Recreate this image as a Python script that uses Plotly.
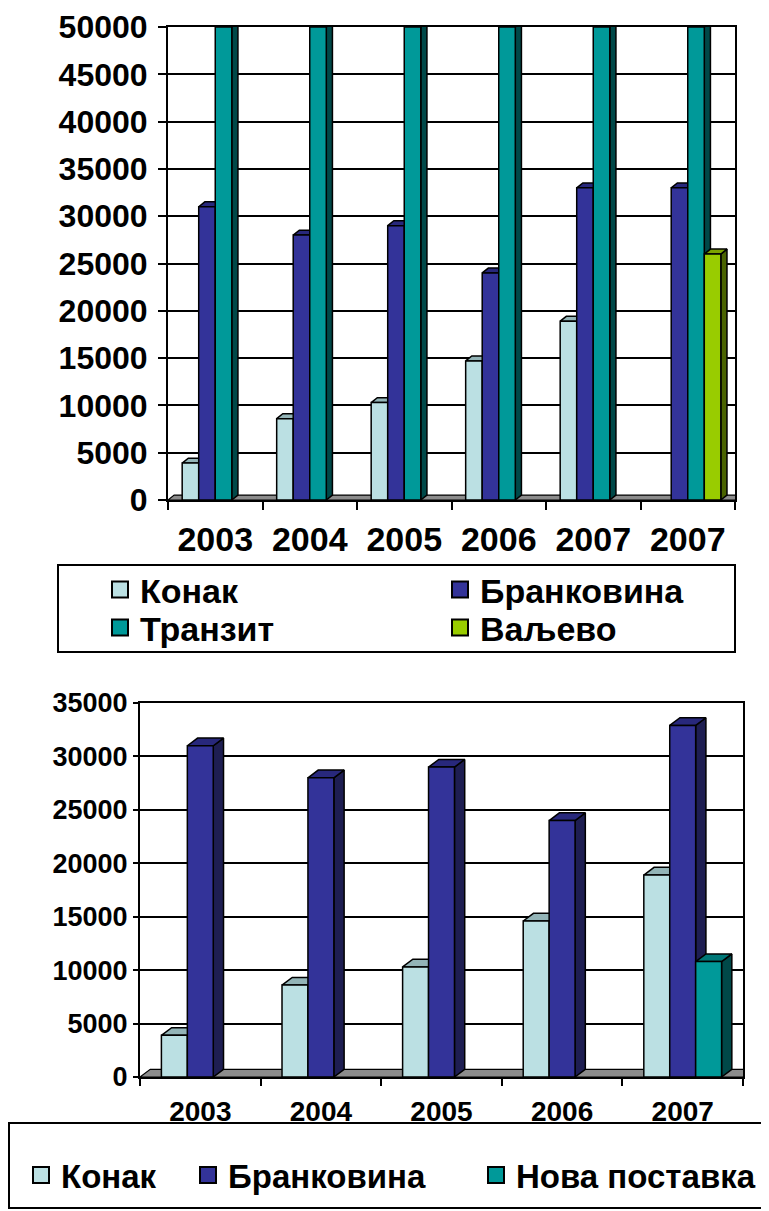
import plotly.graph_objects as go

# ---------------- data ----------------
top_categories = ["2003", "2004", "2005", "2006", "2007", "2007"]
top_konak = [3900, 8600, 10300, 14700, 18900, 0]
top_brankovina = [31000, 28000, 29000, 24000, 33000, 33000]
top_tranzit = [50000, 50000, 50000, 50000, 50000, 50000]
top_valjevo = [0, 0, 0, 0, 0, 26000]

bottom_categories = ["2003", "2004", "2005", "2006", "2007"]
bottom_konak = [3900, 8600, 10300, 14600, 18900]
bottom_brankovina = [31000, 28000, 29000, 24000, 32900]
bottom_nova = [0, 0, 0, 0, 10800]

top_series = [
    ("Конак", top_konak, "#BBE0E3", "#93B4B7", "#6E8A8C"),
    ("Бранковина", top_brankovina, "#333399", "#28287C", "#1E1E52"),
    ("Транзит", top_tranzit, "#009999", "#007878", "#004848"),
    ("Ваљево", top_valjevo, "#99CC00", "#7CA300", "#4A6300"),
]
bottom_series = [
    ("Конак", bottom_konak, "#BBE0E3", "#93B4B7", "#6E8A8C"),
    ("Бранковина", bottom_brankovina, "#333399", "#28287C", "#1E1E52"),
    ("Нова поставка", bottom_nova, "#009999", "#007878", "#004848"),
]

FONT = "Liberation Sans, Arial, sans-serif"
PAGE_W, PAGE_H = 769, 1211
OFF = 8  # default body margin of the html page
W, H = PAGE_W - OFF, PAGE_H - OFF

fig = go.Figure()


def px_x(p):
    return (p - OFF) / W


def px_y(p):
    return (H - (p - OFF)) / H


def add_3d_bars(series, ncat, bar_w, dx, dy, xa, ya):
    n = len(series)
    fx = [-0.5, ncat - 0.5, ncat - 0.5 + dx, -0.5 + dx, -0.5]
    fy = [0, 0, dy, dy, 0]
    fig.add_trace(go.Scatter(x=fx, y=fy, mode="lines", fill="toself",
                             fillcolor="#8C8C8C", line=dict(color="black", width=1.2),
                             hoverinfo="skip", showlegend=False, xaxis=xa, yaxis=ya))
    for j, (name, vals, cf, ct, cs) in enumerate(series):
        sx, sy, tx, ty, frx, fry = [], [], [], [], [], []
        for i, v in enumerate(vals):
            if not v:
                continue
            l = i - n * bar_w / 2 + j * bar_w
            r = l + bar_w
            sx += [r, r + dx, r + dx, r, r, None]
            sy += [0, dy, v + dy, v, 0, None]
            tx += [l, r, r + dx, l + dx, l, None]
            ty += [v, v, v + dy, v + dy, v, None]
            frx += [l, r, r, l, l, None]
            fry += [0, 0, v, v, 0, None]
        for xs, ys, col in ((sx, sy, cs), (tx, ty, ct), (frx, fry, cf)):
            fig.add_trace(go.Scatter(x=xs, y=ys, mode="lines", fill="toself",
                                     fillcolor=col, line=dict(color="black", width=1.5),
                                     hoverinfo="skip", showlegend=False,
                                     xaxis=xa, yaxis=ya))


add_3d_bars(top_series, len(top_categories), 0.175, 0.065, 520, "x", "y")
add_3d_bars(bottom_series, len(bottom_categories), 0.215, 0.085, 720, "x2", "y2")

# legend entries, one legend per entry so each can be placed like the original
top_legend_pos = [(100, 590), (440, 590), (100, 628), (440, 628)]
bottom_legend_pos = [(21, 1175), (188, 1175), (476, 1175)]
top_legend_size, bottom_legend_size = 34, 33

legend_layout = {}
k = 0
for (name, vals, cf, ct, cs), (lx, ly) in zip(top_series + bottom_series,
                                             top_legend_pos + bottom_legend_pos):
    k += 1
    lname = "legend" if k == 1 else f"legend{k}"
    is_top = k <= len(top_series)
    fig.add_trace(go.Scatter(x=[None], y=[None], mode="markers", name=name,
                             marker=dict(symbol="square", size=16, color=cf,
                                         line=dict(color="black", width=2)),
                             legend=lname,
                             xaxis="x" if is_top else "x2",
                             yaxis="y" if is_top else "y2"))
    legend_layout[lname] = dict(
        x=px_x(lx), y=px_y(ly), xanchor="left", yanchor="middle",
        orientation="h", borderwidth=0, bgcolor="rgba(0,0,0,0)",
        font=dict(family=FONT, size=top_legend_size if is_top else bottom_legend_size,
                  color="black", weight="bold"))

axis_common = dict(showline=True, linecolor="black", linewidth=2, mirror=True,
                   zeroline=False, automargin=False, fixedrange=True)

fig.update_layout(
    width=W, height=H,
    margin=dict(l=0, r=0, t=0, b=0),
    paper_bgcolor="white", plot_bgcolor="white",
    showlegend=True,
    xaxis=dict(domain=[px_x(168), px_x(735)], range=[-0.5, len(top_categories) - 0.5],
               tickmode="array", tickvals=list(range(len(top_categories))),
               ticktext=top_categories, ticks="", showgrid=False,
               tickfont=dict(family=FONT, size=34, color="black", weight="bold"),
               ticklabelstandoff=8,
               minor=dict(tickmode="array",
                          tickvals=[i - 0.5 for i in range(len(top_categories) + 1)],
                          ticks="outside", ticklen=8, tickwidth=2, tickcolor="black",
                          showgrid=False),
               anchor="y", **axis_common),
    yaxis=dict(domain=[px_y(500), px_y(27)], range=[0, 50000], dtick=5000,
               tickformat="d", ticks="outside", ticklen=8, tickwidth=2, tickcolor="black",
               showgrid=True, gridcolor="black", gridwidth=1.5,
               tickfont=dict(family=FONT, size=32, color="black", weight="bold"),
               ticklabelstandoff=4,
               anchor="x", **axis_common),
    xaxis2=dict(domain=[px_x(140), px_x(743)], range=[-0.5, len(bottom_categories) - 0.5],
                tickmode="array", tickvals=list(range(len(bottom_categories))),
                ticktext=bottom_categories, ticks="", showgrid=False,
                tickfont=dict(family=FONT, size=28, color="black", weight="bold"),
                ticklabelstandoff=8,
                minor=dict(tickmode="array",
                           tickvals=[i - 0.5 for i in range(len(bottom_categories) + 1)],
                           ticks="outside", ticklen=7, tickwidth=2, tickcolor="black",
                           showgrid=False),
                anchor="y2", **axis_common),
    yaxis2=dict(domain=[px_y(1077), px_y(703)], range=[0, 35000], dtick=5000,
                tickformat="d", ticks="outside", ticklen=5, tickwidth=2, tickcolor="black",
                showgrid=True, gridcolor="black", gridwidth=1.5,
                tickfont=dict(family=FONT, size=27, color="black", weight="bold"),
                ticklabelstandoff=0,
                anchor="x2", **axis_common),
    shapes=[
        dict(type="rect", xref="paper", yref="paper",
             x0=px_x(58), x1=px_x(735), y0=px_y(652), y1=px_y(565),
             line=dict(color="black", width=2), fillcolor="rgba(0,0,0,0)", layer="below"),
        dict(type="rect", xref="paper", yref="paper",
             x0=px_x(9), x1=px_x(763), y0=px_y(1208), y1=px_y(1123),
             line=dict(color="black", width=2), fillcolor="rgba(0,0,0,0)", layer="below"),
    ],
    **legend_layout,
)

fig.write_html("out.html")
